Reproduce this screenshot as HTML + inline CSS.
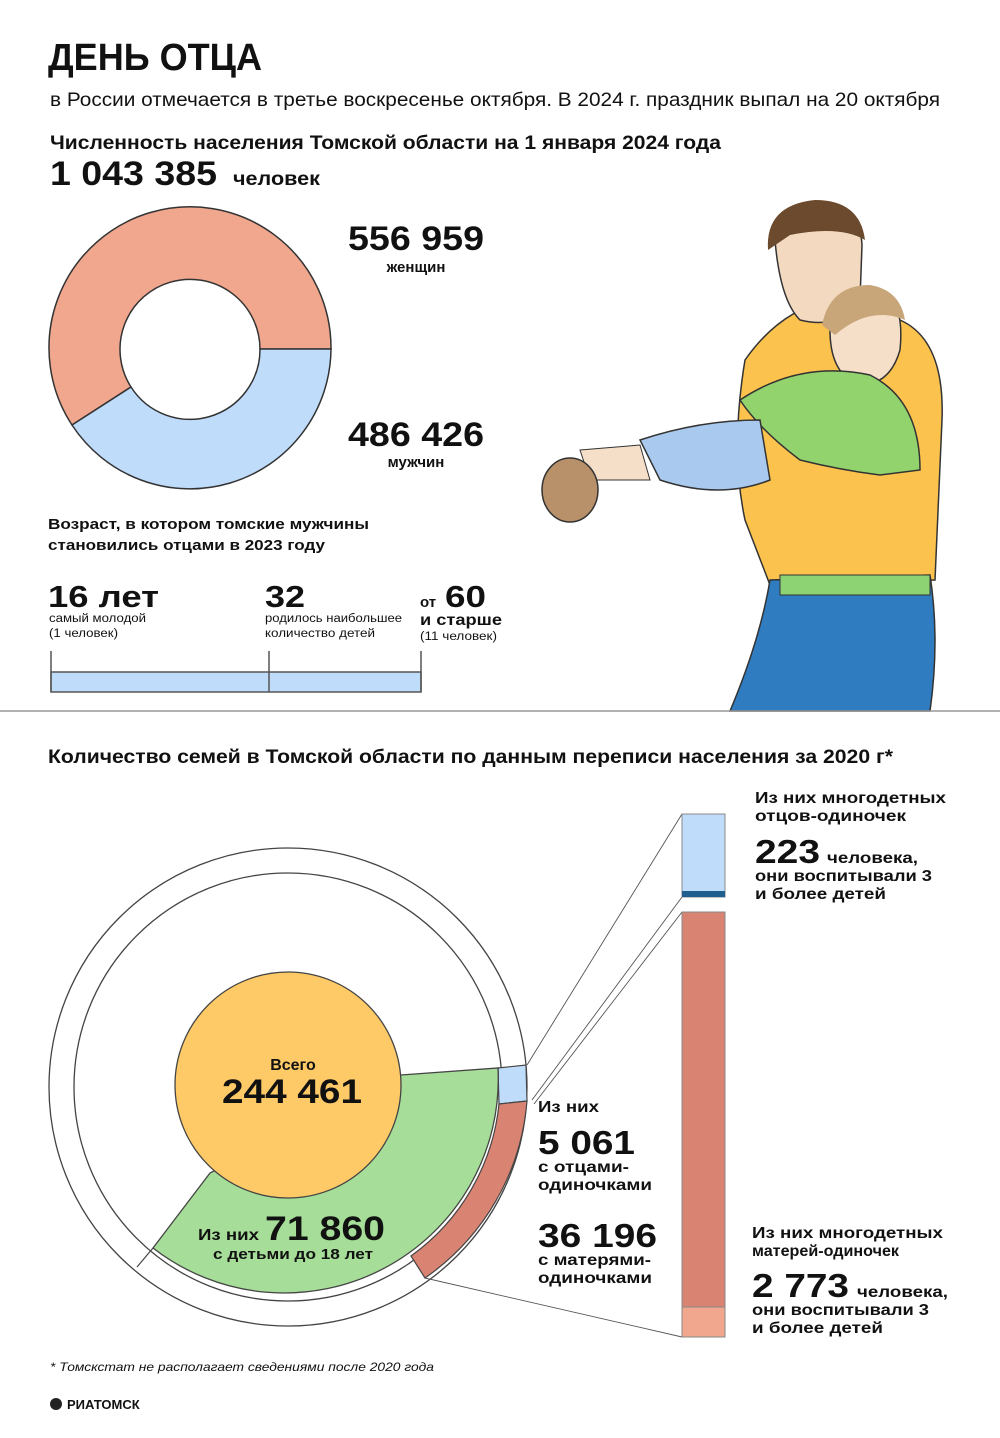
<!DOCTYPE html>
<html><head><meta charset="utf-8"><style>
html,body{margin:0;padding:0;background:#fff}
svg{display:block}
text{font-family:"Liberation Sans","DejaVu Sans",sans-serif;fill:#111}
.b{font-weight:bold}
</style></head><body>
<svg width="1000" height="1438" viewBox="0 0 1000 1438" xmlns="http://www.w3.org/2000/svg">
<text x="48" y="70" class="b" font-size="38" textLength="214" lengthAdjust="spacingAndGlyphs">ДЕНЬ ОТЦА</text>
<text x="50" y="106" font-size="19.5" fill="#222" textLength="890" lengthAdjust="spacingAndGlyphs">в России отмечается в третье воскресенье октября. В 2024 г. праздник выпал на 20 октября</text>
<text x="50" y="149" class="b" font-size="19" textLength="671" lengthAdjust="spacingAndGlyphs">Численность населения Томской области на 1 января 2024 года</text>
<text x="50" y="185" class="b" font-size="34" textLength="167" lengthAdjust="spacingAndGlyphs">1 043 385</text>
<text x="233" y="185" class="b" font-size="19" textLength="87" lengthAdjust="spacingAndGlyphs">человек</text>

<!-- donut -->
<path d="M331,349 A141,141 0 1 0 72,425 L131,387 A70,70 0 1 1 260,349 Z" fill="#f0a78e" stroke="#333" stroke-width="1.5"/>
<path d="M331,349 A141,141 0 0 1 72,425 L131,387 A70,70 0 0 0 260,349 Z" fill="#bfdcfb" stroke="#333" stroke-width="1.5"/>
<text x="348" y="250" class="b" font-size="34" textLength="136" lengthAdjust="spacingAndGlyphs">556 959</text>
<text x="416" y="272" class="b" font-size="15" text-anchor="middle">женщин</text>
<text x="348" y="446" class="b" font-size="34" textLength="136" lengthAdjust="spacingAndGlyphs">486 426</text>
<text x="416" y="467" class="b" font-size="15" text-anchor="middle">мужчин</text>

<text x="48" y="529" class="b" font-size="15" textLength="321" lengthAdjust="spacingAndGlyphs">Возраст, в котором томские мужчины</text>
<text x="48" y="550" class="b" font-size="15" textLength="277" lengthAdjust="spacingAndGlyphs">становились отцами в 2023 году</text>
<text x="48" y="607" class="b" font-size="31" textLength="111" lengthAdjust="spacingAndGlyphs">16 лет</text>
<text x="49" y="622" font-size="11.5" textLength="97" lengthAdjust="spacingAndGlyphs">самый молодой</text>
<text x="49" y="637" font-size="11.5" textLength="69" lengthAdjust="spacingAndGlyphs">(1 человек)</text>
<text x="265" y="607" class="b" font-size="31" textLength="40" lengthAdjust="spacingAndGlyphs">32</text>
<text x="265" y="622" font-size="11.5" textLength="137" lengthAdjust="spacingAndGlyphs">родилось наибольшее</text>
<text x="265" y="637" font-size="11.5" textLength="110" lengthAdjust="spacingAndGlyphs">количество детей</text>
<text x="420" y="607" class="b" font-size="15">от</text>
<text x="445" y="607" class="b" font-size="31" textLength="41" lengthAdjust="spacingAndGlyphs">60</text>
<text x="420" y="625" class="b" font-size="16" textLength="82" lengthAdjust="spacingAndGlyphs">и старше</text>
<text x="420" y="640" font-size="11.5" textLength="77" lengthAdjust="spacingAndGlyphs">(11 человек)</text>
<rect x="51" y="672" width="370" height="20" fill="#bfdcfb" stroke="#555" stroke-width="1.5"/>
<path d="M51,651V692M269,651V692M421,651V692" stroke="#555" stroke-width="1.5"/>

<!-- illustration approximation -->
<path d="M745,360 Q780,310 830,300 L900,320 Q945,340 942,420 L935,580 L770,585 L745,520 Q730,450 745,360Z" fill="#fbc24e" stroke="#333" stroke-width="1.5"/>
<path d="M770,580 L930,575 Q940,640 930,711 L730,711 Q760,640 770,580Z" fill="#2f7cc0" stroke="#333" stroke-width="1.5"/>
<rect x="780" y="575" width="150" height="20" fill="#8ed373" stroke="#333"/>
<path d="M775,240 Q780,205 820,203 Q860,205 862,245 L860,300 Q840,330 800,320 Q780,300 775,240Z" fill="#f3d9c0" stroke="#333" stroke-width="1.5"/>
<path d="M768,250 Q765,205 815,200 Q860,200 865,240 Q840,225 790,235Z" fill="#6b4a2e"/>
<path d="M830,330 Q850,285 880,290 Q905,300 900,350 Q890,385 860,385 Q830,375 830,330Z" fill="#f6dfc9" stroke="#333" stroke-width="1.5"/>
<path d="M822,325 Q830,285 870,285 Q900,290 905,320 Q870,305 835,335Z" fill="#c9a57a"/>
<path d="M740,400 Q800,360 870,375 Q920,400 920,470 L880,475 Q840,470 800,460 Q760,430 740,400Z" fill="#93d36e" stroke="#333" stroke-width="1.5"/>
<path d="M640,440 Q700,420 760,420 L770,480 Q720,500 660,480 Z" fill="#a9c9ee" stroke="#333" stroke-width="1.5"/>
<path d="M580,450 L640,445 L650,480 L590,480Z" fill="#f6dfc9" stroke="#333"/>
<ellipse cx="570" cy="490" rx="28" ry="32" fill="#b8916a" stroke="#333" stroke-width="1.5"/>

<line x1="0" y1="711" x2="1000" y2="711" stroke="#999" stroke-width="1.5"/>

<text x="48" y="763" class="b" font-size="19" textLength="845" lengthAdjust="spacingAndGlyphs">Количество семей в Томской области по данным переписи населения за 2020 г*</text>

<!-- big chart -->
<circle cx="288" cy="1087" r="239" fill="#fff" stroke="#444" stroke-width="1.3"/>
<circle cx="288" cy="1087" r="214" fill="#fff" stroke="#444" stroke-width="1.3"/>
<path d="M498,1068 L526,1065 L527,1101 L499,1104 Z" fill="#bfdcfb" stroke="#444" stroke-width="1.2"/>
<path d="M499,1104 L527,1101 A239,239 0 0 1 425,1278 L411,1256 A214,214 0 0 0 499,1104Z" fill="#d98373" stroke="#444" stroke-width="1.2"/>
<path d="M401,1075 L498,1068 A214,214 0 0 1 153,1248 L210,1173 Z" fill="#a6dd98" stroke="#444" stroke-width="1.3"/>
<line x1="153" y1="1248" x2="137" y2="1267" stroke="#444" stroke-width="1.2"/>
<circle cx="288" cy="1085" r="113" fill="#fdca67" stroke="#444" stroke-width="1.3"/>
<text x="293" y="1070" class="b" font-size="16" text-anchor="middle">Всего</text>
<text x="222" y="1103" class="b" font-size="34" textLength="140" lengthAdjust="spacingAndGlyphs">244 461</text>
<text x="198" y="1240" class="b" font-size="16" textLength="61" lengthAdjust="spacingAndGlyphs">Из них</text>
<text x="265" y="1240" class="b" font-size="34" textLength="120" lengthAdjust="spacingAndGlyphs">71 860</text>
<text x="213" y="1259" class="b" font-size="15" textLength="160" lengthAdjust="spacingAndGlyphs">с детьми до 18 лет</text>

<path d="M527,1065 L682,814 M532,1100 L682,897 M534,1104 L682,912 M425,1278 L682,1337" stroke="#555" stroke-width="0.9" fill="none"/>
<rect x="682" y="814" width="43" height="83" fill="#bfdcfb" stroke="#888"/>
<rect x="682" y="891" width="43" height="6" fill="#1f5f8f"/>
<rect x="682" y="912" width="43" height="395" fill="#d98373" stroke="#888"/>
<rect x="682" y="1307" width="43" height="30" fill="#f0a78e" stroke="#888"/>

<text x="538" y="1112" class="b" font-size="15.5" textLength="61" lengthAdjust="spacingAndGlyphs">Из них</text>
<text x="538" y="1154" class="b" font-size="33" textLength="97" lengthAdjust="spacingAndGlyphs">5 061</text>
<text x="538" y="1172" class="b" font-size="15.5" textLength="91" lengthAdjust="spacingAndGlyphs">с отцами-</text>
<text x="538" y="1190" class="b" font-size="15.5" textLength="114" lengthAdjust="spacingAndGlyphs">одиночками</text>
<text x="538" y="1247" class="b" font-size="33" textLength="119" lengthAdjust="spacingAndGlyphs">36 196</text>
<text x="538" y="1265" class="b" font-size="15.5" textLength="113" lengthAdjust="spacingAndGlyphs">с матерями-</text>
<text x="538" y="1283" class="b" font-size="15.5" textLength="114" lengthAdjust="spacingAndGlyphs">одиночками</text>

<text x="755" y="803" class="b" font-size="15.5" textLength="191" lengthAdjust="spacingAndGlyphs">Из них многодетных</text>
<text x="755" y="821" class="b" font-size="15.5" textLength="151" lengthAdjust="spacingAndGlyphs">отцов-одиночек</text>
<text x="755" y="863" class="b" font-size="33" textLength="65" lengthAdjust="spacingAndGlyphs">223</text>
<text x="827" y="863" class="b" font-size="15.5" textLength="91" lengthAdjust="spacingAndGlyphs">человека,</text>
<text x="755" y="881" class="b" font-size="15.5" textLength="177" lengthAdjust="spacingAndGlyphs">они воспитывали 3</text>
<text x="755" y="899" class="b" font-size="15.5" textLength="131" lengthAdjust="spacingAndGlyphs">и более детей</text>

<text x="752" y="1238" class="b" font-size="15.5" textLength="191" lengthAdjust="spacingAndGlyphs">Из них многодетных</text>
<text x="752" y="1256" class="b" font-size="15.5" textLength="147" lengthAdjust="spacingAndGlyphs">матерей-одиночек</text>
<text x="752" y="1297" class="b" font-size="33" textLength="97" lengthAdjust="spacingAndGlyphs">2 773</text>
<text x="857" y="1297" class="b" font-size="15.5" textLength="91" lengthAdjust="spacingAndGlyphs">человека,</text>
<text x="752" y="1315" class="b" font-size="15.5" textLength="177" lengthAdjust="spacingAndGlyphs">они воспитывали 3</text>
<text x="752" y="1333" class="b" font-size="15.5" textLength="131" lengthAdjust="spacingAndGlyphs">и более детей</text>

<text x="50" y="1371" font-size="12" font-style="italic" fill="#333" textLength="384" lengthAdjust="spacingAndGlyphs">* Томскстат не располагает сведениями после 2020 года</text>
<circle cx="56" cy="1404" r="6" fill="#222"/>
<text x="67" y="1409" class="b" font-size="13">РИАТОМСК</text>
</svg>
</body></html>
